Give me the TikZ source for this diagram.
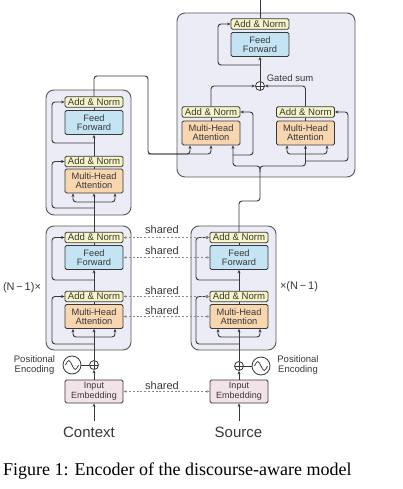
\documentclass[tikz,border=0pt]{standalone}
\usepackage{fontspec}
\setmainfont{Liberation Sans}
\newfontfamily\capfont{Liberation Serif}
\usetikzlibrary{arrows.meta,calc}
\definecolor{lav}{HTML}{ECECF6}
\definecolor{anfill}{HTML}{F7F5C8}
\definecolor{fffill}{HTML}{C4E4F4}
\definecolor{mhafill}{HTML}{F8D6B0}
\definecolor{embfill}{HTML}{F4E2E9}
\definecolor{ln}{HTML}{383838}
\begin{document}
\begin{tikzpicture}[x=1pt,y=-1pt,
 outer/.style={draw=ln!85, fill=lav, rounded corners=8pt, line width=0.9pt, inner sep=0pt},
 blk/.style={draw=ln, line width=0.8pt, rounded corners=1.5pt, minimum width=58pt, inner sep=0pt, align=center, font=\fontsize{9.3}{9.3}\selectfont, text=ln},
 an/.style={blk, fill=anfill, minimum height=10.5pt, font=\fontsize{9.6}{9.5}\selectfont},
 ff/.style={blk, fill=fffill, minimum height=24pt},
 mha/.style={blk, fill=mhafill, minimum height=24pt},
 emb/.style={blk, fill=embfill, minimum height=23pt, font=\fontsize{9}{9.5}\selectfont},
 conn/.style={draw=ln, line width=0.9pt, rounded corners=3pt},
 arr/.style={conn, -{Stealth[length=3.5pt,width=3pt]}},
 shr/.style={draw=ln!60, line width=0.6pt, dash pattern=on 2pt off 1.8pt, {Stealth[length=3pt,width=2.5pt]}-{Stealth[length=3pt,width=2.5pt]}},
 lbl/.style={font=\fontsize{9.5}{10}\selectfont, text=ln, inner sep=0pt, align=center},
 sharedlbl/.style={font=\fontsize{11}{12}\selectfont, text=ln, inner sep=0pt},
 addc/.style={circle, draw=ln, line width=0.8pt, fill=white, minimum size=9pt, inner sep=0pt,
   path picture={\draw[ln, line width=0.7pt] (path picture bounding box.north) -- (path picture bounding box.south) (path picture bounding box.west) -- (path picture bounding box.east);}},
 sine/.style={circle, draw=ln, line width=0.8pt, fill=white, minimum size=18pt, inner sep=0pt},
]
\useasboundingbox (0,0) rectangle (403,489);

% outer blocks
\node[outer, minimum width=178pt, minimum height=164pt] (T) at (266,95) {};
\node[outer, minimum width=85pt, minimum height=125pt] (C2) at (88.5,152.5) {};
\node[outer, minimum width=85pt, minimum height=124pt] (C1) at (88.5,288) {};
\node[outer, minimum width=85pt, minimum height=124pt] (S) at (233.5,288) {};

% top block
\node[an] (tAN) at (260,24) {Add \& Norm};
\node[ff] (tFF) at (260,44.5) {Feed\\Forward};
\node[addc] (g) at (260,86) {};
\node[lbl] (gs) at (290,78) {Gated sum};
\node[an] (lAN) at (211,112) {Add \& Norm};
\node[mha] (lMHA) at (211,133) {Multi-Head\\Attention};
\node[an] (rAN) at (305.5,112) {Add \& Norm};
\node[mha] (rMHA) at (305.5,133) {Multi-Head\\Attention};

% stacks
\node[an] (c2AN) at (94,102) {Add \& Norm};
\node[ff] (c2FF) at (94,122.5) {Feed\\Forward};
\node[an] (c2AN2) at (94,161.5) {Add \& Norm};
\node[mha] (c2MHA) at (94,181) {Multi-Head\\Attention};

\node[an] (c1AN) at (94,237.5) {Add \& Norm};
\node[ff] (c1FF) at (94,257.5) {Feed\\Forward};
\node[an] (c1AN2) at (94,296.5) {Add \& Norm};
\node[mha] (c1MHA) at (94,316.5) {Multi-Head\\Attention};

\node[an] (sAN) at (239,237.5) {Add \& Norm};
\node[ff] (sFF) at (239,257.5) {Feed\\Forward};
\node[an] (sAN2) at (239,296.5) {Add \& Norm};
\node[mha] (sMHA) at (239,316.5) {Multi-Head\\Attention};

\foreach \p/\cx/\rx/\yA/\yB/\yC in {c2/94/52/143/208/202, c1/94/52/280/344/337, s/239/196/280/344/337}{
  \draw[arr] (\p AN2.north) -- (\p FF.south);
  \draw[conn] (\p MHA.north) -- (\p AN2.south);
  \draw[conn] (\p FF.north) -- (\p AN.south);
  \draw[arr] (\cx,\yA) -- (\rx,\yA) |- (\p AN.west);
  \draw[arr] (\cx,\yB) -- (\rx,\yB) |- (\p AN2.west);
  \draw[arr] (\cx,\yC) -| ([xshift=-21pt]\p MHA.south);
  \draw[arr] (\cx,\yC) -| ([xshift=21pt]\p MHA.south);
}

\node[sharedlbl] (nL) at (22,288) {(N\,−\,1)×};
\node[sharedlbl] (nR) at (299,287) {×(N\,−\,1)};

% positional encodings and embeddings
\node[addc] (pL) at (94,365) {};
\node[sine] (sL) at (72,365) {};
\node[lbl] (peL) at (34.5,365) {Positional\\Encoding};
\node[addc] (pR) at (239,366) {};
\node[sine] (sR) at (261,366) {};
\node[lbl] (peR) at (298,365) {Positional\\Encoding};
\foreach \s in {sL,sR}{
  \draw[ln, line width=0.7pt] ([xshift=-6.5pt]\s.center) sin +(3.25,-4.5) cos +(3.25,4.5) sin +(3.25,4.5) cos +(3.25,-4.5);
}
\draw[conn] (sL) -- (pL);
\draw[conn] (sR) -- (pR);

\node[emb] (eL) at (94,391.5) {Input\\Embedding};
\node[emb] (eR) at (239,391.5) {Input\\Embedding};
\node[font=\fontsize{15}{15}\selectfont, text=ln] (ctx) at (89,432) {Context};
\node[font=\fontsize{15}{15}\selectfont, text=ln] (src) at (238.5,432) {Source};
\coordinate (ctxT) at (94,421);
\coordinate (srcT) at (239,421);
\draw[arr] (ctxT) -- (eL.south);
\draw[arr] (srcT) -- (eR.south);
\draw[arr] (eL.north) -- (pL.south);
\draw[arr] (eR.north) -- (pR.south);
\draw[arr] (pL.north) -- (c1MHA.south);
\draw[arr] (pR.north) -- (sMHA.south);
\draw[arr] (c1AN.north) -- (c2MHA.south);

% shared links
\draw[shr] (c1AN.east) -- (sAN.west);
\draw[shr] (c1FF.east) -- (sFF.west);
\draw[shr] (c1AN2.east) -- (sAN2.west);
\draw[shr] (c1MHA.east) -- (sMHA.west);
\draw[shr] (eL.east) -- (eR.west);
\node[sharedlbl] (sh1) at (162,230) {shared};
\node[sharedlbl] (sh2) at (162,251) {shared};
\node[sharedlbl] (sh3) at (162,291) {shared};
\node[sharedlbl] (sh4) at (162,311) {shared};
\node[sharedlbl] (sh5) at (162,386) {shared};

% top block wiring
\coordinate (outT) at (260,0);
\draw[conn] (tAN.north) -- (outT);
\draw[arr] (g.north) -- (tFF.south);
\draw[arr] (260,65) -- (218,65) |- (tAN.west);
\draw[arr] (lAN.north) |- (g.west);
\draw[arr] (rAN.north) |- (g.east);
\draw[conn] (lMHA.north) -- (lAN.south);
\draw[conn] (rMHA.north) -- (rAN.south);
\draw[arr] (233,155) -- (253,155) |- (lAN.east);
\draw[arr] (305.5,161) -- (348,161) |- (rAN.east);
\draw[arr] (305.5,154) -| ([xshift=-18.5pt]rMHA.south);
\draw[arr] (305.5,154) -| ([xshift=21.5pt]rMHA.south);
\coordinate (br) at (260,172);
\draw[arr] (br) -- (260,166) -| ([xshift=22pt]lMHA.south);
\draw[arr] (br) -- (260,166) -| (rMHA.south);
\draw[conn] (sAN.north) -- (239,201) -| (br);
\draw[arr] (c2AN.north) -- (94,76) -- (148,76) -- (148,154) -| (lMHA.south);
\draw[arr] (148,154) -| ([xshift=-21pt]lMHA.south);

% caption
\node[font=\capfont\fontsize{18}{20}\selectfont, anchor=west, inner sep=0pt] (cap) at (3,471) {Figure 1: Encoder of the discourse-aware model};
\end{tikzpicture}
\end{document}
